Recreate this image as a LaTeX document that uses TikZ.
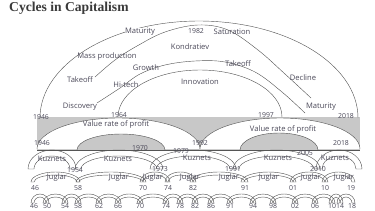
\documentclass[tikz,border=0pt]{standalone}
\usepackage{fontspec}
\setmainfont{Open Sans}
\newfontfamily\titlefont{Liberation Serif}
\definecolor{linec}{HTML}{555555}
\definecolor{txtc}{HTML}{4A4858}
\definecolor{bandc}{HTML}{C8C8C8}
\definecolor{titlec}{HTML}{3A3A3A}
\newcommand{\archband}[5]{%
  \draw[ln] (#1,#3) arc[start angle=180,end angle=360,x radius={(#2-#1)/2},y radius=#4]
    -- ++(-#5,0) arc[start angle=360,end angle=180,x radius={(#2-#1)/2-#5},y radius={#4-#5}] -- cycle;}
\begin{document}
\begin{tikzpicture}[x=1pt,y=-1pt,
  ln/.style={draw=linec,line width=0.42pt},
  lbl/.style={font=\fontsize{7.6}{8}\selectfont,text=txtc,inner sep=0.5pt},
  yr/.style={font=\fontsize{6.9}{7}\selectfont,text=txtc,inner sep=0.3pt}]
\useasboundingbox (0,0) rectangle (375,210);
\node[anchor=west,font=\titlefont\bfseries\fontsize{13.6}{15}\selectfont,text=titlec,inner sep=0pt] (title) at (9,8) {Cycles in Capitalism};

% ---- grey band ----
\fill[bandc] (37,117) rectangle (360,150);
\fill[white,ln] (37,149) arc[start angle=180,end angle=360,x radius=81.5,y radius=31];
\fill[white,ln] (200,149) arc[start angle=180,end angle=360,x radius=80,y radius=31];
\fill[bandc,ln] (77,150) arc[start angle=180,end angle=360,x radius=44,y radius=16];
\fill[bandc,ln] (240,150) arc[start angle=180,end angle=360,x radius=39,y radius=17];
\draw[ln] (37,150) -- (360,150);

% ---- top curves ----
\draw[ln] (40,118) arc[start angle=180,end angle=360,x radius=159,y radius=97];
\draw[ln] (118,117) arc[start angle=180,end angle=360,x radius=82,y radius=47];
\draw[ln] plot[smooth,tension=0.6] coordinates {(95,77) (115,60) (137,46) (165,32) (198,25) (228,30) (258,50) (285,74) (311,98)};
\draw[ln] plot[smooth,tension=0.6] coordinates {(97,103) (120,88) (140,74) (165,65) (195,61) (225,62) (255,72) (282,92) (305,113)};

\node[lbl,fill=white] (mat1) at (140,32) {Maturity};
\node[yr] (y1982) at (196,31) {1982};
\node[lbl] (sat) at (232,32) {Saturation};
\node[lbl] (kon) at (190,47) {Kondratiev};
\node[lbl] (mass) at (107,57) {Mass production};
\node[lbl] (take2) at (238,64) {Takeoff};
\node[lbl] (grow) at (146,68) {Growth};
\node[lbl] (take1) at (80,80) {Takeoff};
\node[lbl] (hitech) at (126,85) {Hi-tech};
\node[lbl] (innov) at (200,82) {Innovation};
\node[lbl] (decl) at (303,78) {Decline};
\node[lbl] (disc) at (80,107) {Discovery};
\node[lbl] (mat2) at (321,107) {Maturity};
\node[yr] (a1946) at (41,117) {1946};
\node[yr] (a1964) at (119,115) {1964};
\node[yr] (a1997) at (266,115) {1997};
\node[yr] (a2018) at (346,116) {2018};

\node[lbl] (vrp1) at (116,124) {Value rate of profit};
\node[lbl] (vrp2) at (283,129) {Value rate of profit};
\node[yr] (b1946) at (42,143) {1946};
\node[yr] (b1970) at (140,148) {1970};
\node[yr] (b1992) at (200,143) {1992};
\node[yr] (b2018) at (341,143) {2018};

% ---- Kuznets ----
\archband{28}{76}{169}{19}{6}
\archband{75}{163}{169}{19}{6}
\archband{150}{236}{169}{19}{6}
\archband{233}{320}{169}{19}{6}
\archband{316}{362}{169}{19}{6}
\node[lbl] (k1) at (52,159) {Kuznets};
\node[lbl] (k2) at (118,159) {Kuznets};
\node[lbl] (k3) at (197,158) {Kuznets};
\node[lbl] (k4) at (278,158) {Kuznets};
\node[lbl] (k5) at (335,158) {Kuznets};
\node[yr] (c1954) at (75,170) {1954};
\node[yr] (c1973) at (160,169) {1973};
\node[yr] (c1979) at (181,151) {1979};
\node[yr] (c1991) at (233,169) {1991};
\node[yr] (c2005) at (305,153) {2005};
\node[yr] (c2010) at (318,169) {2010};

% ---- Juglar ----
\foreach \a/\b in {31/80,76/146,140/170,165/196,190/248,241/296,290/328,322/355}{
  \archband{\a}{\b}{182}{10}{3}}
\foreach \x/\t in {57/46-58,119/58-70,153/70-74,190/74-82,229/82-91,269/91-01,311/01-10,344/10-19}{
  \node[lbl] (jug\t) at (\x,178) {Juglar};}
\foreach \x/\t in {35/46,78/58,143/70,168/74,193/82,245/91,293/01,325/10,351/19}{
  \node[yr] (jy\t) at (\x,188) {\t};}

% ---- Kitchin ----
\foreach \a/\b in {31/49,43/68,62/81,75/102,96/121,115/143,137/169,163/183,177/198,192/214,208/233,227/256,250/276,270/298,292/318,312/335,329/343,337/355}{
  \archband{\a}{\b}{203}{9}{3}}
\foreach \x/\t in {34/46,47/50,65/54,78/58,99/62,118/66,140/70,166/74,180/78,195/82,211/86,230/91,253/94,273/98,295/02,315/06,332/10,340/14,352/18}{
  \node[yr] (ky\t) at (\x,206) {\t};}
\end{tikzpicture}
\end{document}
